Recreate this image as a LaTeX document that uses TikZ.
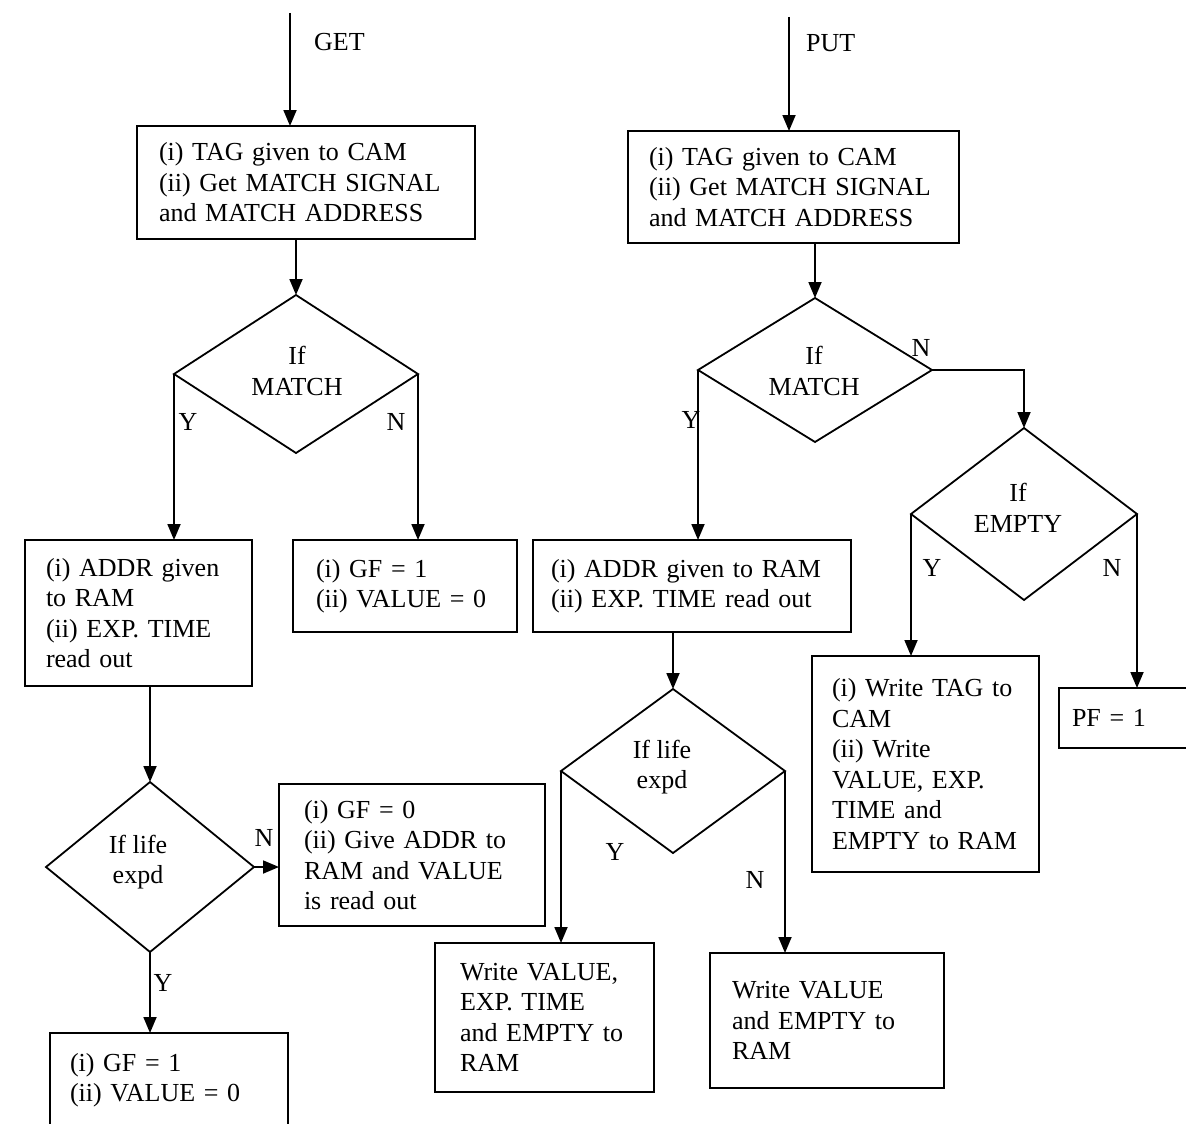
\documentclass[tikz,border=0pt]{standalone}
\usepackage{fontspec}
\setmainfont{Liberation Serif}
\usetikzlibrary{arrows.meta,shapes.geometric}
\begin{document}
\begin{tikzpicture}[x=1pt,y=-1pt,
  every node/.style={font=\fontsize{26}{30.5}\selectfont},
  stepbox/.style={draw, line width=1.8pt, rectangle, anchor=north west,
    align=left, inner ysep=0pt, outer sep=0pt},
  decision/.style={draw, line width=1.8pt, diamond, inner sep=0pt, outer sep=0pt},
  dtext/.style={align=center, inner sep=0pt},
  flow/.style={line width=1.8pt, -{Triangle[length=16pt,width=13pt]}},
  yn/.style={inner sep=0pt}
]
\useasboundingbox (0,0) rectangle (1186,1124);
\clip (0,0) rectangle (1186,1124);

% ---------- GET branch ----------
\node[stepbox, text width=294pt, inner xsep=22pt, minimum height=113pt] (getbox) at (137,126)
  {(i) TAG given to CAM\\(ii) Get MATCH SIGNAL\\and MATCH ADDRESS};
\node[decision, minimum width=244pt, minimum height=158pt] (d1) at (296,374) {};
\node[dtext] (d1t) at (297,371) {If\\MATCH};
\node[stepbox, text width=185pt, inner xsep=21pt, minimum height=146pt] (addrL) at (25,540)
  {(i) ADDR given\\to RAM\\(ii) EXP. TIME\\read out};
\node[stepbox, text width=178pt, inner xsep=23pt, minimum height=92pt] (gf1) at (293,540)
  {(i) GF = 1\\(ii) VALUE = 0};
\node[decision, minimum width=208pt, minimum height=170pt] (d4) at (150,867) {};
\node[dtext] (d4t) at (138,862) {If life\\expd};
\node[stepbox, text width=216pt, inner xsep=25pt, minimum height=142pt] (gf0) at (279,784)
  {(i) GF = 0\\(ii) Give ADDR to\\RAM and VALUE\\is read out};
\node[stepbox, text width=198pt, inner xsep=20pt, minimum height=94pt] (gfb) at (50,1033)
  {(i) GF = 1\\(ii) VALUE = 0};

% ---------- PUT branch ----------
\node[stepbox, text width=289pt, inner xsep=21pt, minimum height=112pt] (putbox) at (628,131)
  {(i) TAG given to CAM\\(ii) Get MATCH SIGNAL\\and MATCH ADDRESS};
\node[decision, minimum width=234pt, minimum height=144pt] (d2) at (815,370) {};
\node[dtext] (d2t) at (814,371) {If\\MATCH};
\node[stepbox, text width=282pt, inner xsep=18pt, minimum height=92pt] (addrR) at (533,540)
  {(i) ADDR given to RAM\\(ii) EXP. TIME read out};
\node[decision, minimum width=226pt, minimum height=172pt] (d3) at (1024,514) {};
\node[dtext] (d3t) at (1018,508) {If\\EMPTY};
\node[stepbox, text width=187pt, inner xsep=20pt, minimum height=216pt] (tagbox) at (812,656)
  {(i) Write TAG to\\CAM\\(ii) Write\\VALUE, EXP.\\TIME and\\EMPTY to RAM};
\node[stepbox, text width=124pt, inner xsep=13pt, minimum height=60pt] (pfbox) at (1059,688)
  {PF = 1};
\node[decision, minimum width=224pt, minimum height=164pt] (d5) at (673,771) {};
\node[dtext] (d5t) at (662,767) {If life\\expd};
\node[stepbox, text width=169pt, inner xsep=25pt, minimum height=149pt] (wv1) at (435,943)
  {Write VALUE,\\EXP. TIME\\and EMPTY to\\RAM};
\node[stepbox, text width=190pt, inner xsep=22pt, minimum height=135pt] (wv2) at (710,953)
  {Write VALUE\\and EMPTY to\\RAM};

% ---------- connectors ----------
\coordinate (getin) at (290,13);
\coordinate (putin) at (789,17);
\draw[flow] (getin) -- (getin |- getbox.north);
\draw[flow] (d1.north |- getbox.south) -- (d1.north);
\draw[flow] (d1.west) -- (d1.west |- addrL.north);
\draw[flow] (d1.east) -- (d1.east |- gf1.north);
\draw[flow] (d4.north |- addrL.south) -- (d4.north);
\draw[flow] (d4.east) -- (d4.east -| gf0.west);
\draw[flow] (d4.south) -- (d4.south |- gfb.north);

\draw[flow] (putin) -- (putin |- putbox.north);
\draw[flow] (d2.north |- putbox.south) -- (d2.north);
\draw[flow] (d2.west) -- (d2.west |- addrR.north);
\draw[flow] (d2.east) -| (d3.north);
\draw[flow] (d3.west) -- (d3.west |- tagbox.north);
\draw[flow] (d3.east) -- (d3.east |- pfbox.north);
\draw[flow] (d5.north |- addrR.south) -- (d5.north);
\draw[flow] (d5.west) -- (d5.west |- wv1.north);
\draw[flow] (d5.east) -- (d5.east |- wv2.north);

% ---------- labels ----------
\node[yn, anchor=west] (getl) at (314,42) {GET};
\node[yn, anchor=west] (putl) at (806,43) {PUT};
\node[yn] (d1y) at (188,422) {Y};
\node[yn] (d1n) at (396,422) {N};
\node[yn] (d2n) at (921,348) {N};
\node[yn] (d2y) at (691,420) {Y};
\node[yn] (d3y) at (932,568) {Y};
\node[yn] (d3n) at (1112,568) {N};
\node[yn] (d4n) at (264,838) {N};
\node[yn] (d4y) at (163,983) {Y};
\node[yn] (d5y) at (615,852) {Y};
\node[yn] (d5n) at (755,880) {N};
\end{tikzpicture}
\end{document}
